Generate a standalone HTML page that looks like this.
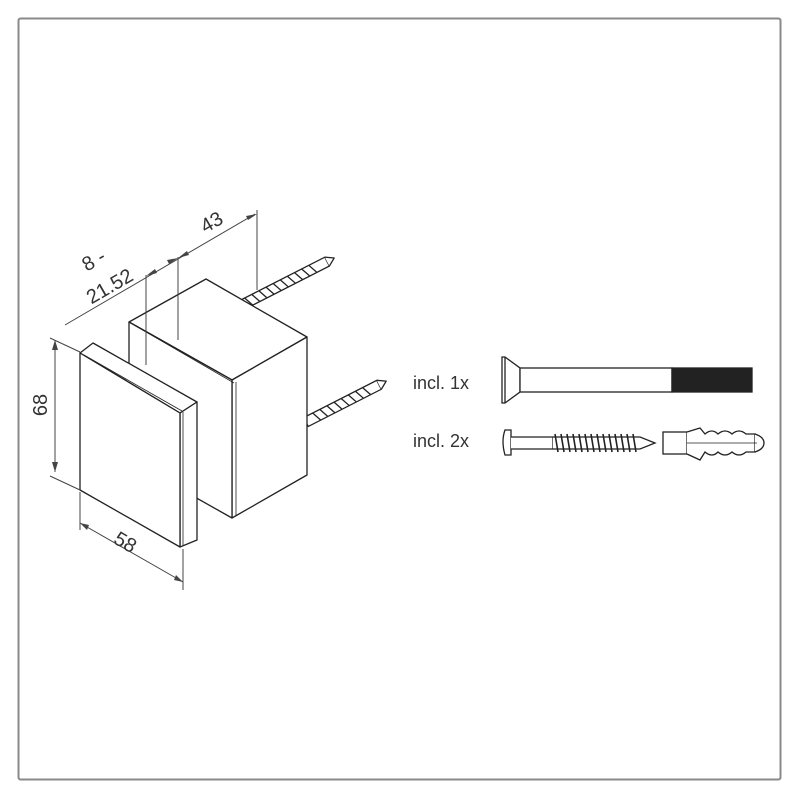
<!DOCTYPE html>
<html><head><meta charset="utf-8"><style>
html,body{margin:0;padding:0;background:#fff;}
svg{display:block;}
text{font-family:"Liberation Sans",sans-serif;fill:#333;}
</style></head><body>
<svg width="800" height="800" viewBox="0 0 800 800" xmlns="http://www.w3.org/2000/svg">
<rect x="18.5" y="18.5" width="762" height="761" fill="none" stroke="#8a8a8a" stroke-width="2" rx="2"/>
<g stroke="#222" stroke-width="1.3" fill="#fff" stroke-linejoin="round">
<g transform="translate(238,307) rotate(-27)">
<rect x="0" y="-5" width="100" height="10" fill="#fff"/>
<path d="M10 -5 l4 10 M18 -5 l4 10 M26 -5 l4 10 M34 -5 l4 10 M42 -5 l4 10 M50 -5 l4 10 M58 -5 l4 10 M66 -5 l4 10 M74 -5 l4 10 M82 -5 l4 10" fill="none"/>
<path d="M100 -5 L108 0 L100 5" />
</g>
<g transform="translate(306,422) rotate(-27)">
<rect x="0" y="-5" width="82" height="10" fill="#fff"/>
<path d="M10 -5 l4 10 M18 -5 l4 10 M26 -5 l4 10 M34 -5 l4 10 M42 -5 l4 10 M50 -5 l4 10 M58 -5 l4 10 M66 -5 l4 10" fill="none"/>
<path d="M82 -5 L90 0 L82 5"/>
</g>
<polygon points="129,322 206,279 307,337 232,380"/>
<polygon points="232,380 307,337 307,475 232,518"/>
<polygon points="129,322 232,380 232,518 129,460"/>
<line x1="134" y1="325" x2="234" y2="383" stroke-width="0.8"/>
<line x1="236" y1="382" x2="236" y2="516" stroke-width="0.8"/>
<polygon points="80,353 93,343 197,402 180,413"/>
<polygon points="180,413 197,402 197,540 180,547"/>
<polygon points="80,353 180,413 180,547 80,490"/>
<line x1="84" y1="355" x2="182" y2="411" stroke-width="0.8"/>
<line x1="183" y1="412" x2="183" y2="545" stroke-width="0.8"/>
</g>
<g stroke="#444" stroke-width="1" fill="none">
<line x1="55" y1="340" x2="55" y2="472"/>
<line x1="50" y1="338" x2="80" y2="352"/>
<line x1="50" y1="476" x2="80" y2="490"/>
<line x1="80" y1="492" x2="80" y2="530"/>
<line x1="183" y1="549" x2="183" y2="590"/>
<line x1="80" y1="523" x2="183" y2="582"/>
<line x1="65" y1="325" x2="255" y2="214"/>
<line x1="146" y1="275" x2="146" y2="365"/>
<line x1="178" y1="257" x2="178" y2="340"/>
<line x1="257" y1="210" x2="257" y2="290"/>
</g>
<g fill="#444">
<polygon points="55,340 52,350 58,350"/><polygon points="55,472 52,462 58,462"/>
<polygon points="80,523 89,525 87,530"/><polygon points="183,582 174,580 176,575"/>
<polygon points="146,276 155,269 157,273"/><polygon points="178,258 169,264 167,260"/>
<polygon points="178,258 187,251 189,255"/><polygon points="257,214 248,220 246,216"/>
</g>
<text x="47" y="405" font-size="20" transform="rotate(-90 47 405)" text-anchor="middle">68</text>
<text x="122" y="548" font-size="20" transform="rotate(30 122 548)" text-anchor="middle">58</text>
<text x="97" y="266" font-size="20" transform="rotate(-30 97 266)" text-anchor="middle">8 -</text>
<text x="113" y="292" font-size="20" transform="rotate(-30 113 292)" text-anchor="middle">21.52</text>
<text x="215" y="228" font-size="20" transform="rotate(-30 215 228)" text-anchor="middle">43</text>
<text x="413" y="389" font-size="18">incl. 1x</text>
<text x="413" y="447" font-size="18">incl. 2x</text>
<g stroke="#222" stroke-width="1.3" fill="#fff">
<path d="M502 357 L505 357 L520 368 L520 392 L505 403 L502 403 Z"/>
<line x1="505" y1="357" x2="505" y2="403"/>
<rect x="520" y="368" width="152" height="24"/>
<rect x="672" y="368" width="80" height="24" fill="#222"/>
<path d="M505 430 Q501 441 505 455 L511 455 L511 430 Z"/>
<path d="M511 437 L553 437 L553 449 L511 449"/>
<path d="M553 437 L640 437 L655 443 L640 449 L553 449" fill="#fff"/>
<path d="M555 434 l3 18 M561 434 l3 18 M567 434 l3 18 M573 434 l3 18 M579 434 l3 18 M585 434 l3 18 M591 434 l3 18 M597 434 l3 18 M603 434 l3 18 M609 434 l3 18 M615 434 l3 18 M621 434 l3 18 M627 434 l3 18 M633 434 l3 18" fill="none" stroke-width="1.6"/>
<rect x="663" y="432" width="24" height="22"/>
<path d="M687 432 L700 428 L705 434 Q712 428 718 434 Q725 428 732 434 Q739 428 746 434 L755 434 L755 452 L746 452 Q739 458 732 452 Q725 458 718 452 Q712 458 705 452 L700 460 L687 454" fill="#fff"/>
<path d="M755 434 Q764 437 764 443 Q764 449 755 452" fill="#fff"/>
<line x1="687" y1="443" x2="757" y2="443" stroke-width="0.8"/>
</g>
</svg>
</body></html>
